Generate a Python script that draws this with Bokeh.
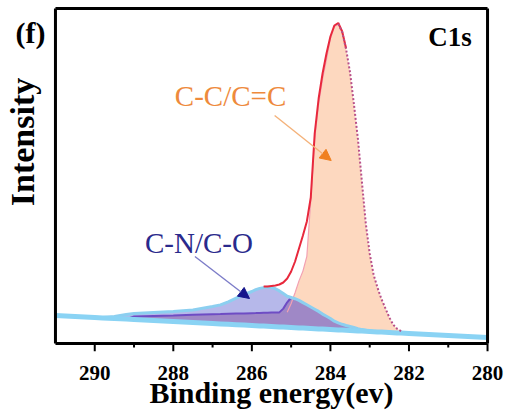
import numpy as np
from bokeh.plotting import figure
from bokeh.models import Range1d, Label, Arrow, NormalHead, FixedTicker
from bokeh.embed import file_html
from bokeh.resources import INLINE

# ---------------- data ----------------
energy = [291.0, 290.5, 290.0, 289.8, 289.5, 289.2, 289.0, 288.5, 288.0, 287.5,
          287.0, 286.8, 286.6, 286.4, 286.2, 286.0,
          285.9, 285.8, 285.7, 285.6, 285.5, 285.4, 285.3, 285.2, 285.1, 285.0,
          284.9, 284.8, 284.7, 284.6, 284.5, 284.4, 284.3, 284.2, 284.1, 284.0,
          283.9, 283.8, 283.7, 283.6, 283.5, 283.4, 283.3, 283.2, 283.1, 283.0,
          282.9, 282.8, 282.7, 282.6, 282.5, 282.4, 282.3, 282.2, 282.1, 282.0,
          281.5, 281.0, 280.5, 280.0]

background = [28, 27, 26, 25.6, 25, 24.4, 24, 23, 22, 21,
              20, 19.6, 19.2, 18.8, 18.4, 18.0,
              17.8, 17.6, 17.4, 17.2, 17.0, 16.8, 16.6, 16.4, 16.2, 16.0,
              15.8, 15.6, 15.4, 15.2, 15.0, 14.8, 14.6, 14.4, 14.2, 14.0,
              13.8, 13.6, 13.4, 13.2, 13.0, 12.8, 12.6, 12.4, 12.2, 12.0,
              11.8, 11.6, 11.4, 11.2, 11.0, 10.8, 10.6, 10.4, 10.2, 10.0,
              9, 8, 7, 6]

# C-C/C=C component (above background)
cc_peak = [0, 0, 0, 0, 0, 0, 0, 0, 0, 0,
           0, 0, 0, 0, 0, 0,
           0, 0, 0, 0.5, 1.5, 3, 5, 9, 15, 24,
           35, 47, 57, 72, 128, 190, 225, 250, 270, 291,
           303, 306, 298, 281, 258, 226, 192, 150, 108, 78,
           57, 44, 33, 24, 15, 8, 4, 2, 1, 0,
           0, 0, 0, 0]

# C-N/C-O component (above background)
cn_peak = [0, 0, 0, 0.5, 2, 4.5, 6, 8, 10, 12.5,
           17, 19, 22.5, 26.5, 30.5, 34,
           36, 37.5, 38.5, 39, 39, 38, 36, 33.5, 31, 30,
           29, 27.5, 25.5, 23.5, 21.5, 19.5, 17.5, 15, 13, 11,
           8.5, 7, 5.8, 4.8, 4, 3.2, 2.3, 1.5, 1, 0.5,
           0.2, 0, 0, 0, 0, 0, 0, 0, 0, 0,
           0, 0, 0, 0]

nan = float("nan")
# purple step line under the C-N/C-O peak (above background)
step_line = [nan, nan, nan, nan, nan, 0, 3, 4.6, 6.1, 7.7,
             9.2, 9.8, 10.5, 11.1, 11.7, 12.3,
             12.6, 13.0, 13.3, 13.6, 13.9, 14.2, 14.5, 18.5, 25, 30,
             nan, nan, nan, nan, nan, nan, nan, nan, nan, nan,
             nan, nan, nan, nan, nan, nan, nan, nan, nan, nan,
             nan, nan, nan, nan, nan, nan, nan, nan, nan, nan,
             nan, nan, nan, nan]

# red fitted envelope (absolute), drawn on the left flank and top
envelope = [nan, nan, nan, nan, nan, nan, nan, nan, nan, nan,
            nan, nan, nan, nan, nan, nan,
            nan, nan, 57, 57, 57.5, 58, 59, 61, 65, 72,
            82, 95, 108, 122, 146, 210, 245, 270, 290, 307,
            318, 320.5, 312, 295, nan, nan, nan, nan, nan, nan,
            nan, nan, nan, nan, nan, nan, nan, nan, nan, nan,
            nan, nan, nan, nan]

x_limits = [291, 280]
y_limits = [0, 335]
major_ticks = [290, 288, 286, 284, 282, 280]
minor_ticks = [289, 287, 285, 283, 281]

# ---------------- derived arrays ----------------
E = np.array(energy)
bg = np.array(background)
cc = np.array(cc_peak)
cn = np.array(cn_peak)
st = np.array(step_line)
env = np.array(envelope)

SERIF = "Liberation Serif"
NBSP = "\u00a0"

# layout: the drawn box sits PAD px inside Bokeh's frame
W, H = 506, 413
BOX_L, BOX_R, BOX_T, BOX_B = 53, 487, 8, 343
PAD = 8
ppx = (BOX_R - BOX_L) / (x_limits[0] - x_limits[1])
ppy = (BOX_B - BOX_T) / (y_limits[1] - y_limits[0])
xr = Range1d(x_limits[0] + PAD / ppx, x_limits[1] - PAD / ppx)
yr = Range1d(y_limits[0] - PAD / ppy, y_limits[1] + PAD / ppy)

p = figure(width=W, height=H, output_backend="svg", toolbar_location=None,
           x_range=xr, y_range=yr,
           min_border_left=BOX_L - PAD, min_border_right=W - BOX_R - PAD,
           min_border_top=BOX_T - PAD, min_border_bottom=H - BOX_B - PAD,
           background_fill_color="white", border_fill_color="white",
           outline_line_color=None)
p.grid.visible = False

# ---- bottom axis: labels only (ticks drawn below as glyphs) ----
ax = p.xaxis[0]
ax.ticker = FixedTicker(ticks=major_ticks, minor_ticks=minor_ticks)
ax.axis_line_color = None
ax.major_tick_line_color = None
ax.minor_tick_line_color = None
ax.major_tick_in = 0
ax.major_tick_out = 0
ax.minor_tick_in = 0
ax.minor_tick_out = 0
ax.major_label_text_font = SERIF
ax.major_label_text_font_style = "bold"
ax.major_label_text_font_size = "21px"
ax.major_label_text_color = "black"
ax.major_label_standoff = 14
ax.axis_label = "Binding energy(ev)"
ax.axis_label_text_font = SERIF
ax.axis_label_text_font_style = "bold"
ax.axis_label_text_font_size = "30px"
ax.axis_label_text_color = "black"
ax.axis_label_standoff = -7

# ---- left axis: "(f)" tag and "Intensity" ----
ay = p.yaxis[0]
ay.ticker = FixedTicker(ticks=[311], minor_ticks=[])
ay.major_label_overrides = {311: "(f)"}
ay.axis_line_color = None
ay.major_tick_line_color = None
ay.minor_tick_line_color = None
ay.major_tick_out = 0
ay.major_tick_in = 0
ay.major_label_standoff = 2
ay.major_label_text_font = SERIF
ay.major_label_text_font_style = "bold"
ay.major_label_text_font_size = "30px"
ay.major_label_text_color = "black"
ay.axis_label = NBSP * 8 + "Intensity"
ay.axis_label_text_font = SERIF
ay.axis_label_text_font_style = "bold"
ay.axis_label_text_font_size = "34px"
ay.axis_label_text_color = "black"
ay.axis_label_standoff = -28

# ---------------- marks ----------------
# C-C/C=C peak fill
m = (E <= 285.6) & (E >= 282.0)
p.varea(x=E[m], y1=bg[m], y2=(bg + cc)[m], fill_color="#fdd8bf")

# lavender part of C-N/C-O
m = (E <= 289.8) & (E >= 285.0)
low = bg + np.nan_to_num(st)
p.varea(x=E[m], y1=low[m], y2=(bg + cn)[m], fill_color="#b6b8ea")

# dark purple part
dark_top = np.where(E >= 285.0, np.nan_to_num(st), cn)
m = (E <= 289.2) & (E >= 282.8)
p.varea(x=E[m], y1=bg[m], y2=(bg + dark_top)[m], fill_color="#9f88c6")

# C-C outline, left (pink)
m = (E <= 285.1) & (E >= 283.8)
p.line(E[m], (bg + cc)[m], line_color="#f2a0b2", line_width=1.2)

# purple step line
m = (E <= 289.2) & (E >= 285.0)
p.line(E[m], (bg + st)[m], line_color="#6e4cc4", line_width=2)

# C-N/C-O upper line
m = (E <= 289.8) & (E >= 282.9)
p.line(E[m], (bg + cn)[m], line_color="#8ccff0", line_width=3)

# background line
p.line(E, bg, line_color="#8ad3f4", line_width=5)

# red envelope
m = ~np.isnan(env)
p.line(E[m], env[m], line_color="#e8283c", line_width=2)

# dotted right flank
m = (E <= 283.8) & (E >= 282.2)
p.line(E[m], (bg + cc)[m], line_color="#b8508a", line_width=2, line_dash="2 2")

# ---- box and ticks ----
xa, xb = x_limits
ya, yb = y_limits
p.segment(x0=[xa, xb, xa, xa], y0=[ya, ya, ya, yb],
          x1=[xa, xb, xb, xb], y1=[yb, yb, ya, yb],
          line_color="black", line_width=3)
p.segment(x0=major_ticks, y0=[ya] * len(major_ticks),
          x1=major_ticks, y1=[ya - 8 / ppy] * len(major_ticks),
          line_color="black", line_width=2)
p.segment(x0=minor_ticks, y0=[ya] * len(minor_ticks),
          x1=minor_ticks, y1=[ya - 4 / ppy] * len(minor_ticks),
          line_color="black", line_width=2)

# ---------------- annotations ----------------
p.add_layout(Arrow(end=NormalHead(size=11, fill_color="#f08020", line_color="#f08020"),
                   x_start=285.42, y_start=228, x_end=283.98, y_end=183,
                   line_color="#f4b27a", line_width=1.4))
p.add_layout(Arrow(end=NormalHead(size=11, fill_color="#16168c", line_color="#16168c"),
                   x_start=287.45, y_start=87, x_end=286.06, y_end=45,
                   line_color="#7c7cc8", line_width=1.4))

p.add_layout(Label(x=287.96, y=248, text="C-C/C=C", text_font=SERIF,
                   text_font_size="29px", text_color="#ee8a3c",
                   text_align="left", text_baseline="alphabetic"))
p.add_layout(Label(x=288.72, y=101, text="C-N/C-O", text_font=SERIF,
                   text_font_size="29px", text_color="#2a2a8c",
                   text_align="left", text_baseline="alphabetic"))
p.add_layout(Label(x=280.40, y=307, text="C1s", text_font=SERIF,
                   text_font_size="27px", text_font_style="bold", text_color="black",
                   text_align="right", text_baseline="alphabetic"))

open("out.html", "w").write(file_html(p, INLINE))
